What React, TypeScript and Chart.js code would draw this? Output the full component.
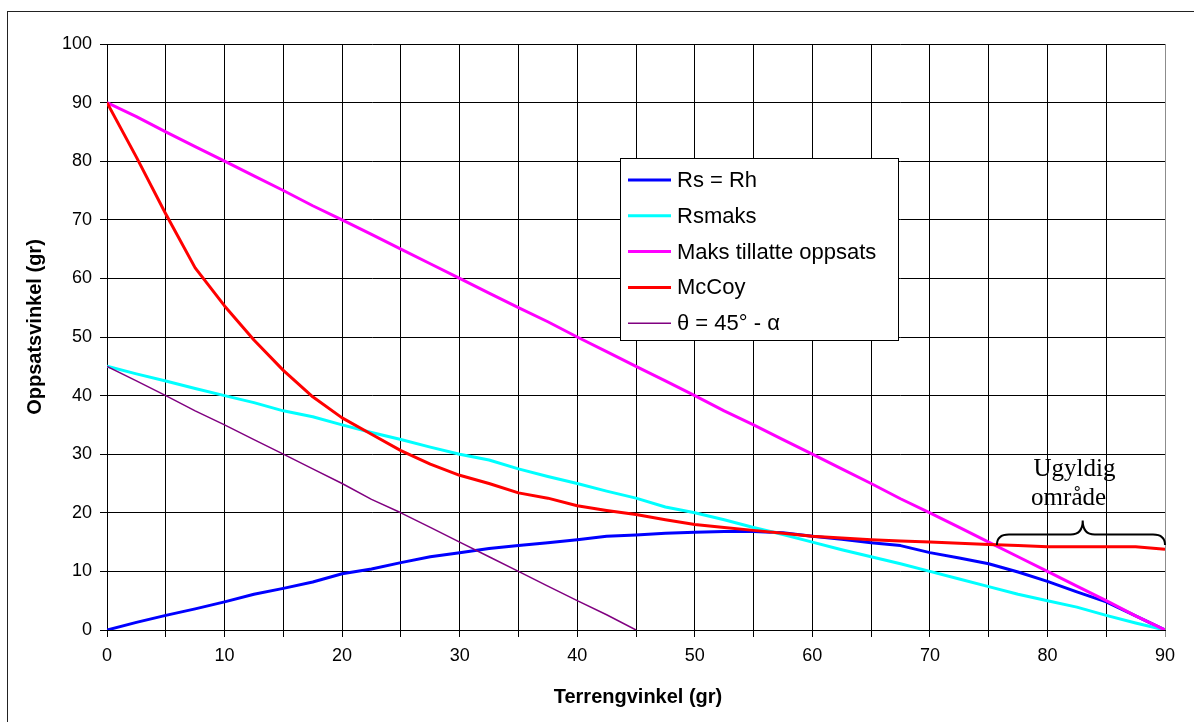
import { useEffect, useRef } from "react";
import { Chart, registerables } from "chart.js";

Chart.register(...registerables);

// Terrain angle (gr) sampled every 2.5
const terrainAngles = [
  0, 2.5, 5, 7.5, 10, 12.5, 15, 17.5, 20, 22.5, 25, 27.5, 30, 32.5, 35, 37.5, 40, 42.5, 45,
  47.5, 50, 52.5, 55, 57.5, 60, 62.5, 65, 67.5, 70, 72.5, 75, 77.5, 80, 82.5, 85, 87.5, 90,
];

const rsEqualsRh = [
  0, 1.3, 2.5, 3.6, 4.8, 6.1, 7.1, 8.2, 9.6, 10.4, 11.5, 12.5, 13.2, 13.9, 14.4, 14.9, 15.4, 16.0, 16.2,
  16.5, 16.7, 16.8, 16.8, 16.6, 16.0, 15.5, 14.9, 14.4, 13.2, 12.3, 11.3, 9.9, 8.3, 6.5, 4.8, 2.4, 0,
];

const rsMax = [
  45, 43.7, 42.5, 41.2, 40, 38.8, 37.4, 36.4, 35, 33.7, 32.5, 31.2, 30, 29, 27.5, 26.2, 25, 23.7, 22.5,
  21, 20, 18.8, 17.5, 16.3, 15, 13.7, 12.5, 11.3, 10, 8.7, 7.4, 6.1, 5, 3.9, 2.5, 1.2, 0,
];

const maxAllowed = [
  90, 87.6, 85, 82.5, 80, 77.5, 75, 72.4, 70, 67.5, 65, 62.5, 60, 57.5, 55, 52.6, 50, 47.5, 45,
  42.5, 40, 37.4, 35, 32.5, 30, 27.5, 25, 22.4, 20, 17.5, 15, 12.5, 10, 7.5, 5, 2.4, 0,
];

const mcCoy = [
  90, 80.7, 71, 61.8, 55.3, 49.5, 44.3, 39.8, 36.2, 33.4, 30.6, 28.3, 26.4, 25.0, 23.4, 22.5, 21.2, 20.4, 19.7,
  18.8, 18.0, 17.5, 17.0, 16.5, 16.0, 15.7, 15.4, 15.2, 15.0, 14.8, 14.6, 14.4, 14.2, 14.2, 14.2, 14.2, 13.8,
];

const thetaAngles = [0, 2.5, 5, 7.5, 10, 12.5, 15, 17.5, 20, 22.5, 25, 27.5, 30, 32.5, 35, 37.5, 40, 42.5, 45];
const theta = [45, 42.5, 40, 37.4, 35, 32.5, 30, 27.5, 25, 22.3, 20, 17.5, 15, 12.5, 10, 7.5, 5, 2.6, 0];

const seriesLabels = ["Rs = Rh", "Rsmaks", "Maks tillatte oppsats", "McCoy", "θ = 45° - α"];
const seriesColors = ["#0000ff", "#00ffff", "#ff00ff", "#ff0000", "#800080"];
const seriesWidths = [3, 3, 3, 3, 1.5];

const xTitle = "Terrengvinkel (gr)";
const yTitle = "Oppsatsvinkel (gr)";
const invalidZoneLines = ["Ugyldig", "område"];

const SANS = "'Liberation Sans', Arial, sans-serif";
const SERIF = "'Liberation Serif', 'Times New Roman', serif";

const pts = (xs: number[], ys: number[]) => xs.map((x, i) => ({ x, y: ys[i] }));

const decorations = {
  id: "decorations",
  afterDraw(chart: any) {
    const { ctx, scales } = chart;
    const xs = scales.x;
    const ys = scales.y;
    ctx.save();

    // outer frame
    ctx.strokeStyle = "#222";
    ctx.lineWidth = 1;
    ctx.strokeRect(7.5, 11.5, 1400, 900);

    // axis titles
    ctx.fillStyle = "#000";
    ctx.font = `bold 20px ${SANS}`;
    ctx.textAlign = "center";
    ctx.textBaseline = "middle";
    ctx.fillText(xTitle, 638, 697);
    ctx.save();
    ctx.translate(35, 327);
    ctx.rotate(-Math.PI / 2);
    ctx.fillText(yTitle, 0, 0);
    ctx.restore();

    // invalid zone label and brace
    ctx.font = `25px ${SERIF}`;
    ctx.textBaseline = "alphabetic";
    ctx.fillText(invalidZoneLines[0], xs.getPixelForValue(82.3), ys.getPixelForValue(26.2));
    ctx.fillText(invalidZoneLines[1], xs.getPixelForValue(81.8), ys.getPixelForValue(21.3));

    const x1 = xs.getPixelForValue(75.7);
    const x2 = xs.getPixelForValue(90);
    const xm = xs.getPixelForValue(83);
    const yEnd = ys.getPixelForValue(14.5);
    const yBar = ys.getPixelForValue(16.3);
    const yPeak = ys.getPixelForValue(18.7);
    const r = 12;
    ctx.beginPath();
    ctx.moveTo(x1, yEnd);
    ctx.quadraticCurveTo(x1, yBar, x1 + r, yBar);
    ctx.lineTo(xm - r, yBar);
    ctx.quadraticCurveTo(xm, yBar, xm, yPeak);
    ctx.quadraticCurveTo(xm, yBar, xm + r, yBar);
    ctx.lineTo(x2 - r, yBar);
    ctx.quadraticCurveTo(x2, yBar, x2, yEnd);
    ctx.strokeStyle = "#000";
    ctx.lineWidth = 2;
    ctx.stroke();

    // legend box
    const lx = 620.5, ly = 158.5, lw = 278, lh = 182;
    ctx.fillStyle = "#fff";
    ctx.fillRect(lx, ly, lw, lh);
    ctx.strokeStyle = "#000";
    ctx.lineWidth = 1;
    ctx.strokeRect(lx, ly, lw, lh);
    ctx.font = `22px ${SANS}`;
    ctx.textAlign = "left";
    ctx.textBaseline = "middle";
    chart.data.datasets.forEach((ds: any, i: number) => {
      const cy = 180 + i * 35.8;
      ctx.beginPath();
      ctx.moveTo(628, cy);
      ctx.lineTo(671, cy);
      ctx.strokeStyle = ds.borderColor;
      ctx.lineWidth = ds.borderWidth;
      ctx.stroke();
      ctx.fillStyle = "#000";
      ctx.fillText(ds.label, 677, cy + 1);
    });

    ctx.restore();
  },
};

export default function App() {
  const canvasRef = useRef<HTMLCanvasElement>(null);

  useEffect(() => {
    const canvas = canvasRef.current;
    if (!canvas) return;
    const seriesData = [
      pts(terrainAngles, rsEqualsRh),
      pts(terrainAngles, rsMax),
      pts(terrainAngles, maxAllowed),
      pts(terrainAngles, mcCoy),
      pts(thetaAngles, theta),
    ];
    const chart = new Chart(canvas, {
      type: "line",
      data: {
        datasets: seriesData.map((data, i) => ({
          label: seriesLabels[i],
          data,
          borderColor: seriesColors[i],
          backgroundColor: seriesColors[i],
          borderWidth: seriesWidths[i],
          pointRadius: 0,
          tension: 0,
          fill: false,
          borderJoinStyle: "round" as const,
          order: seriesLabels.length - i,
        })),
      },
      options: {
        responsive: false,
        animation: false,
        layout: { padding: { top: 44, right: 29, bottom: 0, left: 0 } },
        plugins: {
          legend: { display: false },
          tooltip: { enabled: false },
          title: { display: false },
        },
        scales: {
          x: {
            type: "linear",
            min: 0,
            max: 90,
            afterFit: (scale: any) => {
              scale.height = 92;
            },
            ticks: {
              stepSize: 5,
              autoSkip: false,
              maxRotation: 0,
              padding: 8,
              color: "#000",
              font: { family: SANS, size: 18 },
              callback: (v: any) => (Number(v) % 10 === 0 ? String(v) : ""),
            },
            grid: {
              color: (c: any) => (c.tick && c.tick.value === 90 ? "#8c8c8c" : "#000"),
              lineWidth: 1,
              tickLength: 7,
            },
            border: { color: "#000", width: 1 },
          },
          y: {
            type: "linear",
            min: 0,
            max: 100,
            afterFit: (scale: any) => {
              scale.width = 107;
            },
            ticks: {
              stepSize: 10,
              padding: 8,
              color: "#000",
              font: { family: SANS, size: 18 },
            },
            grid: { color: "#000", lineWidth: 1, tickLength: 7 },
            border: { color: "#000", width: 1 },
          },
        },
      },
      plugins: [decorations],
    });
    return () => chart.destroy();
  }, []);

  return (
    <div
      style={{
        position: "fixed",
        left: 0,
        top: 0,
        width: 1194,
        height: 722,
        overflow: "hidden",
        background: "#fff",
      }}
    >
      <canvas ref={canvasRef} width={1194} height={722} style={{ display: "block" }} />
    </div>
  );
}
